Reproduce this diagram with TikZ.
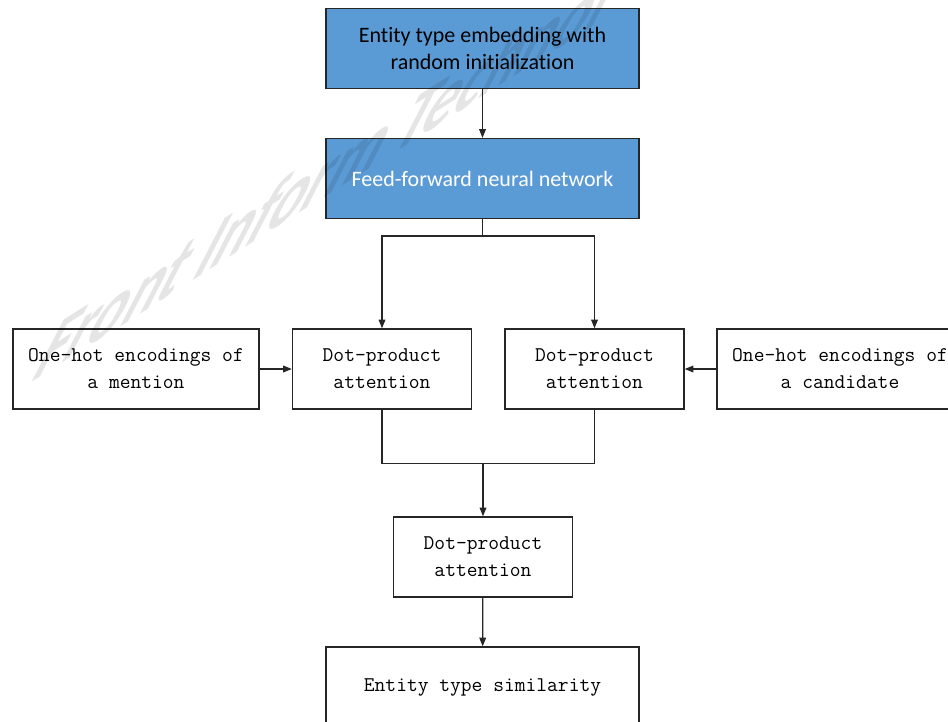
\documentclass[tikz,border=0pt]{standalone}
\usepackage{fontspec}
\setmainfont{Carlito}[Ligatures=NoCommon]
\usetikzlibrary{arrows.meta}
\definecolor{boxblue}{HTML}{5B9BD5}
\definecolor{edgecol}{HTML}{262626}
\begin{document}
\begin{tikzpicture}[x=0.75pt,y=-0.75pt,
  bluebox/.style={draw=edgecol, line width=1pt, fill=boxblue, minimum width=234.75pt, minimum height=60pt, inner sep=0pt, align=center, font=\fontsize{16.5}{20.25}\selectfont},
  plainbox/.style={draw=edgecol, line width=1pt, minimum height=60pt, inner sep=0pt, align=center, font=\ttfamily\fontsize{15.7}{20.25}\selectfont},
  sidebox/.style={plainbox, minimum width=184.5pt},
  dotbox/.style={plainbox, minimum width=134.25pt},
  wide/.style={plainbox, minimum width=234.75pt},
  arr/.style={draw=edgecol, line width=0.9pt, -{Triangle[length=6.5pt,width=5pt]}},
  con/.style={draw=edgecol, line width=0.9pt},
  wmark/.style={transform shape, anchor=base west, inner sep=0pt, text=black, text opacity=0.1, font=\bfseries\fontsize{60}{60}\selectfont}]
\useasboundingbox (0,0) rectangle (948,721);
\clip (0,0) rectangle (948,721);
% boxes
\node[bluebox] (A) at (482.5,48.5) {Entity type embedding with\\random initialization};
\node[bluebox, text=white] (B) at (482.5,178.5) {Feed-forward neural network};
\node[sidebox] (L) at (136,369) {One-hot encodings of\\a mention};
\node[dotbox] (D1) at (382,369) {Dot-product\\attention};
\node[dotbox] (D2) at (594.5,369) {Dot-product\\attention};
\node[sidebox] (R) at (840,369) {One-hot encodings of\\a candidate};
\node[dotbox] (D3) at (483,557) {Dot-product\\attention};
\node[wide] (F) at (482.5,687) {Entity type similarity};
% connectors
\coordinate (br) at (482.5,236);
\coordinate (jn) at (483,463.5);
\draw[arr] (A) -- (B);
\draw[con] (B.south) -- (br);
\draw[arr] (br) -| (D1.north);
\draw[arr] (br) -| (D2.north);
\draw[arr] (L) -- (D1);
\draw[arr] (R) -- (D2);
\draw[con] (D1.south) |- (jn);
\draw[con] (D2.south) |- (jn);
\draw[arr] (jn) -- (D3);
\draw[arr] (D3) -- (F);
% watermark (semi-transparent, slanted)
\begin{scope}[shift={(28,385)}, cm={0.82,0.52,0.62,1.2,(0,0)}]
\node[wmark] (wm) at (0,0) {Front Inform Technol};
\end{scope}
\end{tikzpicture}
\end{document}
